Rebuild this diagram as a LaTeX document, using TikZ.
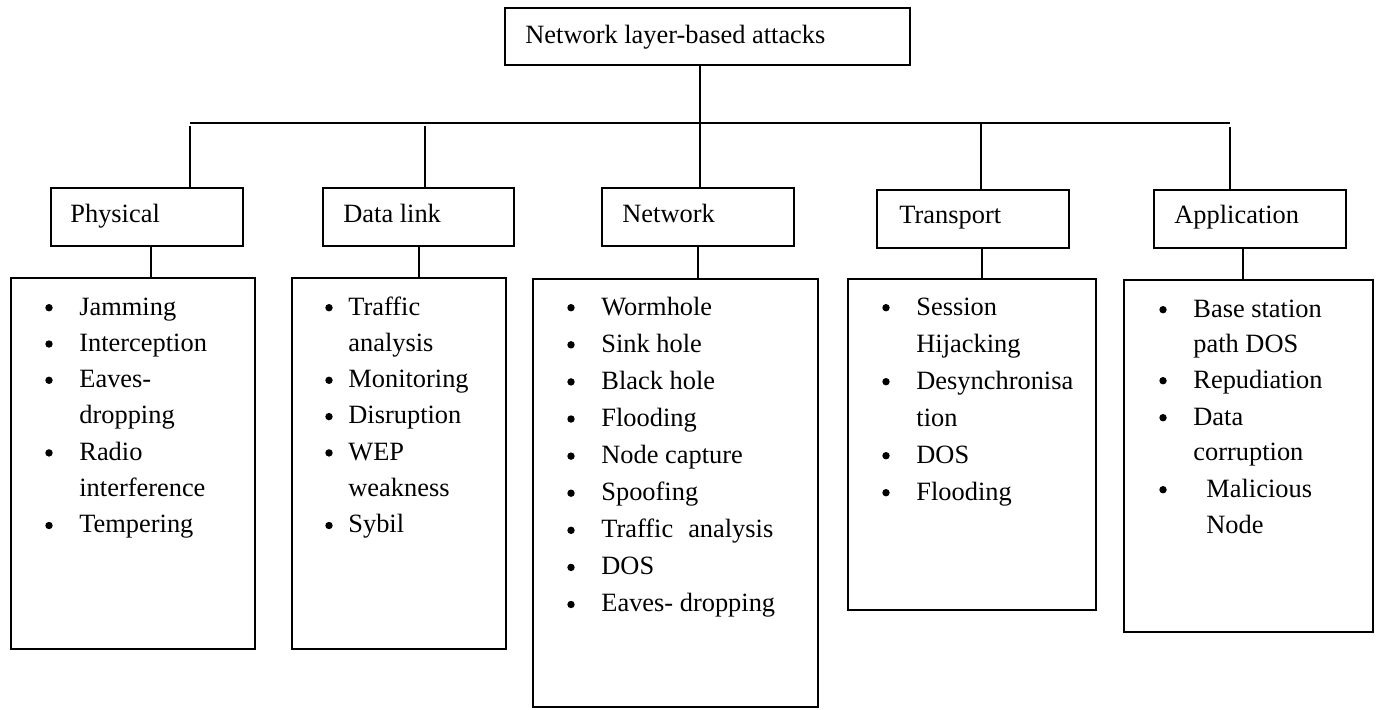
\documentclass[tikz,border=0pt]{standalone}
\usepackage{fontspec}
\setmainfont{Liberation Serif}
\begin{document}
\begin{tikzpicture}[x=0.5pt,y=-0.5pt,
  box/.style={draw,line width=0.8pt,rectangle,inner sep=0pt,anchor=north west},
  lbl/.style={anchor=base west,inner sep=0pt,font=\fontsize{13.2}{15}\selectfont},
  bul/.style={circle,fill,inner sep=0pt,minimum size=3.7pt},
  ln/.style={line width=0.8pt}]
\useasboundingbox (0,0) rectangle (1379,709);
% top
\node[box,minimum width=202.5pt,minimum height=28.5pt] (top) at (504,7) {};
\node[lbl] (ttop) at (525,43) {Network layer-based attacks};
% level 2 boxes
\node[box,minimum width=96pt,minimum height=29pt] (phys) at (50,187) {};
\node[box,minimum width=95.5pt,minimum height=29pt] (dl) at (322,187) {};
\node[box,minimum width=96pt,minimum height=29pt] (net) at (601,187) {};
\node[box,minimum width=96pt,minimum height=29pt] (tr) at (876,189) {};
\node[box,minimum width=96pt,minimum height=29pt] (app) at (1153,189) {};
\node[lbl] (tphys) at (70,222) {Physical};
\node[lbl] (tdl) at (343,222) {Data link};
\node[lbl] (tnet) at (622,222) {Network};
\node[lbl] (ttr) at (899,223) {Transport};
\node[lbl] (tapp) at (1174,223) {Application};
% list boxes
\node[box,minimum width=122pt,minimum height=185.5pt] (plist) at (10,277) {};
\node[box,minimum width=107pt,minimum height=185.5pt] (dlist) at (291,277) {};
\node[box,minimum width=142.5pt,minimum height=214pt] (nlist) at (532,278) {};
\node[box,minimum width=124pt,minimum height=165.5pt] (tlist) at (847,278) {};
\node[box,minimum width=124.5pt,minimum height=176pt] (alist) at (1123,279) {};
% bus connectors
\coordinate (busL) at (190,123);
\coordinate (busR) at (1230,123);
\coordinate (bDL) at (425,123);
\coordinate (bNW) at (700,123);
\coordinate (bTR) at (981,123);
\draw[ln] (busL) -- (busR);
\draw[ln] (top.south -| bNW) -- (bNW) -- (net.north -| bNW);
\draw[ln] ([yshift=-1.5pt]busL) -- (phys.north -| busL);
\draw[ln] ([yshift=-1.5pt]bDL) -- (dl.north -| bDL);
\draw[ln] (bTR) -- (tr.north -| bTR);
\draw[ln] ([yshift=-2pt]busR) -- (app.north -| busR);
% lower connectors
\coordinate (c1) at ([xshift=2pt]phys.south);
\coordinate (c2) at ([xshift=0.25pt]dl.south);
\coordinate (c3) at (net.south);
\coordinate (c4) at ([xshift=4.5pt]tr.south);
\coordinate (c5) at ([xshift=-3.5pt]app.south);
\draw[ln] (c1) -- (c1 |- plist.north);
\draw[ln] (c2) -- (c2 |- dlist.north);
\draw[ln] (c3) -- (c3 |- nlist.north);
\draw[ln] (c4) -- (c4 |- tlist.north);
\draw[ln] (c5) -- (c5 |- alist.north);
% physical list
\foreach \yy/\bb/\txt [count=\i] in {315/1/Jamming, 351.3/1/Interception, 387.6/1/Eaves-, 423.9/0/dropping, 460.2/1/Radio, 496.5/0/interference, 532.8/1/Tempering} {
  \node[lbl] (pt\i) at (79,\yy) {\txt};
  \ifnum\bb=1 \node[bul] (pb\i) at (49,\yy-7.3) {};\fi
}
% data link list
\foreach \yy/\bb/\txt [count=\i] in {315/1/Traffic, 351.3/0/analysis, 387.6/1/Monitoring, 423.9/1/Disruption, 460.2/1/WEP, 496.5/0/weakness, 532.8/1/Sybil} {
  \node[lbl] (dt\i) at (348,\yy) {\txt};
  \ifnum\bb=1 \node[bul] (db\i) at (329,\yy-7.3) {};\fi
}
% network list
\foreach \yy/\txt [count=\i] in {315/Wormhole, 352.1/Sink hole, 389.2/Black hole, 426.3/Flooding, 463.4/Node capture, 500.5/Spoofing, 537.6/{Traffic\hspace{7.5pt}analysis}, 574.7/DOS, 611.8/Eaves- dropping} {
  \node[lbl] (nt\i) at (601,\yy) {\txt};
  \node[bul] (nb\i) at (571,\yy-7.3) {};
}
% transport list
\foreach \yy/\bb/\txt [count=\i] in {315/1/Session, 352/0/Hijacking, 389/1/Desynchronisa, 426/0/tion, 463/1/DOS, 500/1/Flooding} {
  \node[lbl] (tt\i) at (916,\yy) {\txt};
  \ifnum\bb=1 \node[bul] (tb\i) at (886,\yy-7.3) {};\fi
}
% application list
\foreach \xx/\yy/\bb/\txt [count=\i] in {1193/317/1/Base station, 1193/352/0/path DOS, 1193/388/1/Repudiation, 1193/425/1/Data, 1193/460/0/corruption, 1206/497/1/Malicious, 1206/533/0/Node} {
  \node[lbl] (at\i) at (\xx,\yy) {\txt};
  \ifnum\bb=1 \node[bul] (ab\i) at (1163,\yy-7.3) {};\fi
}
\end{tikzpicture}
\end{document}
